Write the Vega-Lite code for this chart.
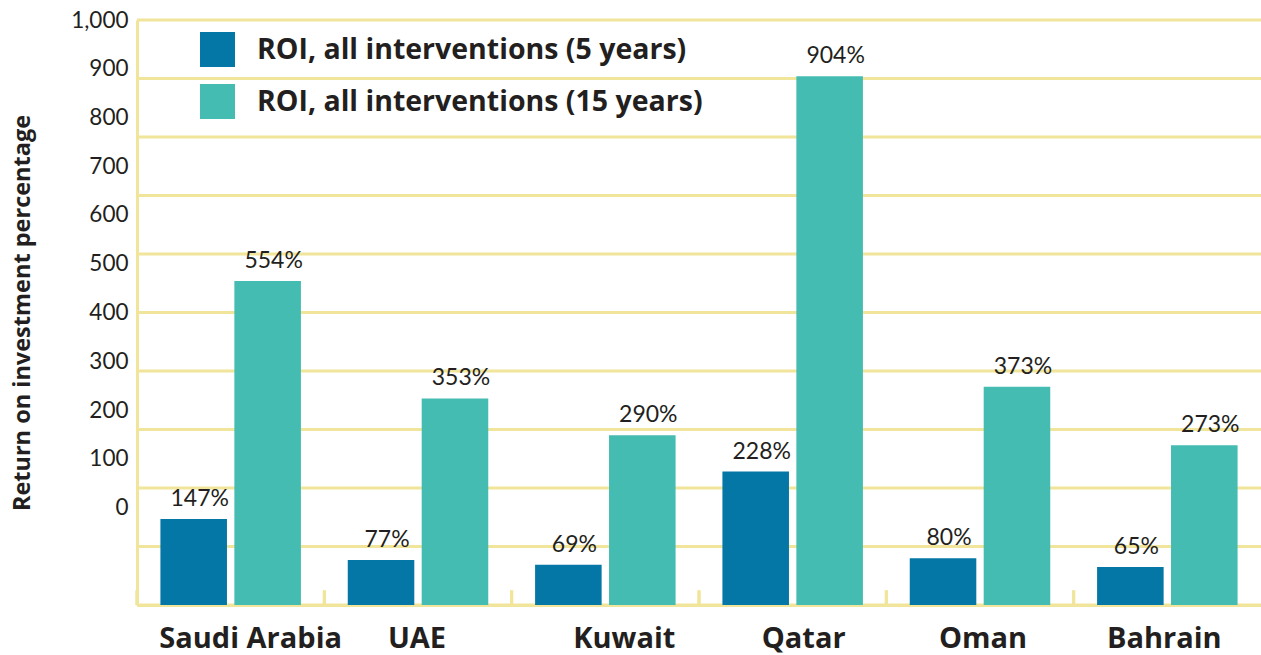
{
  "$schema": "https://vega.github.io/schema/vega-lite/v6.json",
  "autosize": {"type": "none"},
  "padding": {"left": 137, "top": 20, "right": 0, "bottom": 50},
  "width": 1124,
  "height": 585,
  "background": "white",
  "config": {"view": {"stroke": null}, "font": "Lato"},
  "datasets": {
    "roi": [
      {"country": "Saudi Arabia", "series": "ROI, all interventions (5 years)", "value": 147},
      {"country": "Saudi Arabia", "series": "ROI, all interventions (15 years)", "value": 554},
      {"country": "UAE", "series": "ROI, all interventions (5 years)", "value": 77},
      {"country": "UAE", "series": "ROI, all interventions (15 years)", "value": 353},
      {"country": "Kuwait", "series": "ROI, all interventions (5 years)", "value": 69},
      {"country": "Kuwait", "series": "ROI, all interventions (15 years)", "value": 290},
      {"country": "Qatar", "series": "ROI, all interventions (5 years)", "value": 228},
      {"country": "Qatar", "series": "ROI, all interventions (15 years)", "value": 904},
      {"country": "Oman", "series": "ROI, all interventions (5 years)", "value": 80},
      {"country": "Oman", "series": "ROI, all interventions (15 years)", "value": 373},
      {"country": "Bahrain", "series": "ROI, all interventions (5 years)", "value": 65},
      {"country": "Bahrain", "series": "ROI, all interventions (15 years)", "value": 273}
    ],
    "grid": [
      {"g": 0}, {"g": 100}, {"g": 200}, {"g": 300}, {"g": 400}, {"g": 500},
      {"g": 600}, {"g": 700}, {"g": 800}, {"g": 900}, {"g": 1000}
    ]
  },
  "data": {"name": "roi"},
  "layer": [
    {
      "data": {"name": "grid"},
      "mark": {"type": "rule", "color": "#F0E59A", "strokeWidth": 3},
      "encoding": {
        "y": {
          "field": "g", "type": "quantitative", "scale": {"domain": [0, 1000], "nice": false},
          "axis": {
            "title": "Return on investment percentage",
            "titleFont": "Open Sans", "titleFontWeight": "bold", "titleFontSize": 23.5, "titleColor": "#231F20",
            "titlePadding": 36,
            "values": [166.6667, 250, 333.3333, 416.6667, 500, 583.3333, 666.6667, 750, 833.3333, 916.6667, 1000],
            "labelExpr": "format(round((datum.value*6-1000)/500)*100, ',')",
            "ticks": false, "grid": false,
            "domainColor": "#F0E59A", "domainWidth": 3,
            "labelFont": "Lato", "labelFontSize": 22.5, "labelColor": "#231F20", "labelPadding": 9
          }
        }
      }
    },
    {
      "mark": {"type": "bar"},
      "encoding": {
        "x": {
          "field": "country", "type": "nominal",
          "scale": {"domain": ["Saudi Arabia", "UAE", "Kuwait", "Qatar", "Oman", "Bahrain"], "paddingInner": 0.25, "paddingOuter": 0.125},
          "axis": {
            "title": null, "labelAngle": 0, "ticks": false, "labelLimit": 400,
            "domainColor": "#F0E59A", "domainWidth": 3,
            "labelFont": "Open Sans", "labelFontWeight": "bold", "labelFontSize": 29, "labelColor": "#231F20",
            "labelPadding": 19,
            "labelOffset": {"expr": "datum.value == 'Saudi Arabia' ? 20 : datum.value == 'Kuwait' ? 19 : datum.value == 'Qatar' ? 11 : datum.value == 'Oman' ? 3 : datum.value == 'Bahrain' ? -3 : -1"}
          }
        },
        "xOffset": {
          "field": "series", "type": "nominal",
          "scale": {"domain": ["ROI, all interventions (5 years)", "ROI, all interventions (15 years)"], "paddingInner": 0.1, "paddingOuter": 0}
        },
        "y": {
          "field": "value", "type": "quantitative",
          "scale": {"domain": [0, 1000], "nice": false},
          "axis": {
            "title": "Return on investment percentage",
            "titleFont": "Open Sans", "titleFontWeight": "bold", "titleFontSize": 23.5, "titleColor": "#231F20",
            "titlePadding": 36,
            "values": [166.6667, 250, 333.3333, 416.6667, 500, 583.3333, 666.6667, 750, 833.3333, 916.6667, 1000],
            "labelExpr": "format(round((datum.value*6-1000)/500)*100, ',')",
            "ticks": false, "grid": false,
            "domainColor": "#F0E59A", "domainWidth": 3,
            "labelFont": "Lato", "labelFontSize": 22.5, "labelColor": "#231F20", "labelPadding": 9
          }
        },
        "color": {
          "field": "series", "type": "nominal",
          "scale": {"domain": ["ROI, all interventions (5 years)", "ROI, all interventions (15 years)"], "range": ["#0577A6", "#44BCB1"]},
          "legend": {
            "title": null, "orient": "none", "legendX": 63, "legendY": 12, "padding": 0,
            "symbolType": "square", "symbolSize": 1225, "symbolStrokeWidth": 0, "symbolOpacity": 1,
            "labelFont": "Open Sans", "labelFontWeight": "bold", "labelFontSize": 28.5, "labelColor": "#231F20",
            "labelOffset": 22, "labelLimit": 700, "rowPadding": 17
          }
        }
      }
    },
    {
      "transform": [{"calculate": "datum.value + '%'", "as": "label"}],
      "mark": {"type": "text", "font": "Lato", "fontSize": 23, "color": "#231F20", "baseline": "alphabetic", "dy": -13, "dx": 6},
      "encoding": {
        "x": {"field": "country", "type": "nominal"},
        "xOffset": {"field": "series", "type": "nominal"},
        "y": {"field": "value", "type": "quantitative"},
        "text": {"field": "label"}
      }
    },
    {
      "mark": {"type": "rule", "color": "#F0E59A", "strokeWidth": 3},
      "encoding": {
        "x": {"field": "country", "type": "nominal", "bandPosition": -0.1667},
        "y": {"datum": 0, "type": "quantitative"},
        "y2": {"datum": 25}
      }
    }
  ]
}
